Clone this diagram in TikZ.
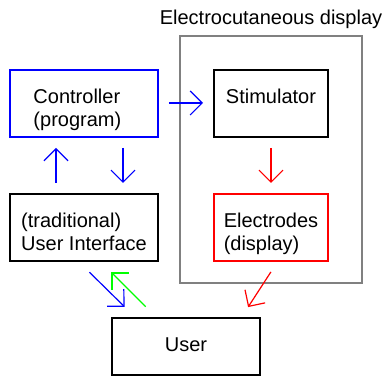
\documentclass[tikz,border=0pt]{standalone}
\usepackage{fontspec}
\setsansfont{Liberation Sans}
\usetikzlibrary{arrows.meta,positioning,calc}
\begin{document}
\begin{tikzpicture}[font=\sffamily\fontsize{20}{23}\selectfont,box/.style={draw,line width=1.2pt,outer sep=0pt,inner ysep=0pt,minimum width=148pt,minimum height=67pt,align=left,text height=34pt,text depth=33pt},twoline/.style={text height=57pt,text depth=10pt},small/.style={box,minimum width=114pt},wire/.style={-{Straight Barb[length=12pt,width=24pt]},line width=1.2pt,shorten <=11pt,shorten >=11pt}]
\node[box,draw=blue,text width=101pt] (ctrl) {Controller\\(program)};
\useasboundingbox ([shift={(-10pt,70pt)}]ctrl.north west) rectangle ++(386pt,-377pt);
\node[small,right=56pt of ctrl] (stim) {Stimulator};
\node[box,twoline,below=57pt of ctrl] (ui) {(traditional)\\User Interface};
\node[small,twoline,draw=red,below=57pt of stim] (elec) {Electrodes\\(display)};
\node[box,below=57pt of ui,xshift=102pt,minimum height=57pt,text depth=23pt] (user) {User};
% the display frame round stimulator and electrodes
\coordinate (dispnw) at ([shift={(-34pt,34pt)}]stim.north west);
\coordinate (dispse) at ([shift={(34pt,-22pt)}]elec.south east);
\draw[line width=1.2pt,black!50] (dispnw) rectangle (dispse);
\node[anchor=base] (title) at ($(stim.north |- dispnw)+(0,11pt)$) {Electrocutaneous display};
\draw[wire,blue] ([yshift=0.5pt]ctrl.east) -- ([yshift=0.5pt]stim.west);
\draw[wire,blue] ([xshift=-28pt]ui.north) -- ([xshift=-28pt]ctrl.south);
\draw[wire,blue] ([xshift=39pt]ctrl.south) -- ([xshift=39pt]ui.north);
\draw[wire,red] (stim) -- (elec);
\draw[wire,blue,shorten <=16pt,shorten >=16pt] ([xshift=-6pt]ui.south) -- ([xshift=24pt]user.north west);
\draw[wire,green,shorten <=16pt,shorten >=16pt] ([xshift=45pt]user.north west) -- ([xshift=16pt]ui.south);
\draw[wire,red,shorten <=13pt,shorten >=13pt] ([xshift=7pt]elec.south) -- ([xshift=-19pt]user.north east);
\end{tikzpicture}
\end{document}
